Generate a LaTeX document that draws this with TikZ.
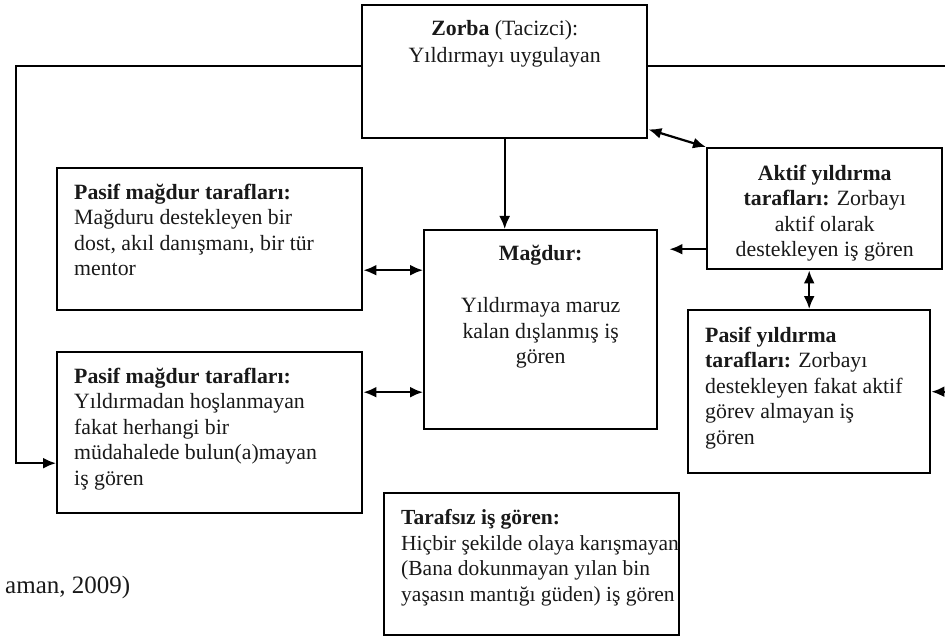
\documentclass[tikz,border=0pt]{standalone}
\usepackage{fontspec}
\setmainfont{Liberation Serif}
\usetikzlibrary{arrows.meta}

\tikzset{
  box/.style={draw, line width=2.4pt, anchor=north west, inner sep=0pt},
  txt/.style={inner sep=0pt, text=black!90, font=\fontsize{21.8}{25.5}\selectfont},
  conn/.style={line width=2.2pt, >={Latex[length=13pt,width=11pt]}}
}

\begin{document}
\begin{tikzpicture}[x=1pt,y=-1pt]
\useasboundingbox (0,0) rectangle (945,639);

% boxes
\node[box, minimum width=285pt, minimum height=133pt] (zorba) at (361,4) {};
\node[box, minimum width=305pt, minimum height=142pt] (pm1) at (56,167) {};
\node[box, minimum width=305pt, minimum height=161pt] (pm2) at (56,351) {};
\node[box, minimum width=233pt, minimum height=199pt] (magdur) at (423,229) {};
\node[box, minimum width=235pt, minimum height=121pt] (aktif) at (706,147) {};
\node[box, minimum width=242pt, minimum height=163pt] (pasy) at (687,309) {};
\node[box, minimum width=295pt, minimum height=142pt] (tarafsiz) at (383,492) {};

% texts
\node[txt, anchor=north, align=center] (zorbatxt) at ([yshift=-16.5pt]zorba.north)
  {\textbf{Zorba} (Tacizci):\\[1.5pt] Yıldırmayı uygulayan};
\node[txt, anchor=north west, align=left] (pm1txt) at ([xshift=18pt,yshift=-16.5pt]pm1.north west)
  {\textbf{Pasif mağdur tarafları:}\\ Mağduru destekleyen bir\\ dost, akıl danışmanı, bir tür\\ mentor};
\node[txt, anchor=north west, align=left] (pm2txt) at ([xshift=18pt,yshift=-16.5pt]pm2.north west)
  {\textbf{Pasif mağdur tarafları:}\\ Yıldırmadan hoşlanmayan\\ fakat herhangi bir\\ müdahalede bulun(a)mayan\\ iş gören};
\node[txt, anchor=north, align=center] (magdurtxt) at ([yshift=-15.5pt]magdur.north)
  {\textbf{Mağdur:}\\[27pt] Yıldırmaya maruz\\ kalan dışlanmış iş\\ gören};
\node[txt, anchor=north, align=center] (aktiftxt) at ([yshift=-17.5pt]aktif.north)
  {\textbf{Aktif yıldırma}\\ \textbf{tarafları:} Zorbayı\\ aktif olarak\\ destekleyen iş gören};
\node[txt, anchor=north west, align=left] (pasytxt) at ([xshift=18pt,yshift=-17.5pt]pasy.north west)
  {\textbf{Pasif yıldırma}\\ \textbf{tarafları:} Zorbayı\\ destekleyen fakat aktif\\ görev almayan iş\\ gören};
\node[txt, anchor=north west, align=left, font=\fontsize{21.5}{25.5}\selectfont] (tarafsiztxt) at ([xshift=18pt,yshift=-17.5pt]tarafsiz.north west)
  {\textbf{Tarafsız iş gören:}\\ Hiçbir şekilde olaya karışmayan\\ (Bana dokunmayan yılan bin\\ yaşasın mantığı güden) iş gören};
\node[txt, anchor=west, font=\fontsize{25}{29}\selectfont] (kaynak) at (5,587) {aman, 2009)};

% connectors
\coordinate (pmone) at ([yshift=-31pt]pm1.east);
\coordinate (pmtwo) at ([yshift=40.5pt]pm2.east);
\coordinate (aktifl) at ([yshift=-40.5pt]aktif.west);

\draw[conn,->] ([yshift=5.5pt]zorba.west) -| ([xshift=-40pt,yshift=-30.5pt]pm2.west) -- ([yshift=-30.5pt]pm2.west);
\draw[conn,->] ([yshift=5.5pt]zorba.east) -| ([xshift=19pt]pasy.east) -- (pasy.east);
\draw[conn,->] (zorba.south) -- (zorba.south |- magdur.north);
\draw[conn,<->] (pmone) -- (pmone -| magdur.west);
\draw[conn,<->] (pmtwo) -- (pmtwo -| magdur.west);
\draw[conn,->, shorten >=11pt] (aktifl) -- (aktifl -| magdur.east);
\draw[conn,<->] ([yshift=10pt]zorba.south east) -- (aktif.north west);
\draw[conn,<->] (aktif.south -| pasy.north) -- (pasy.north);

\end{tikzpicture}
\end{document}
